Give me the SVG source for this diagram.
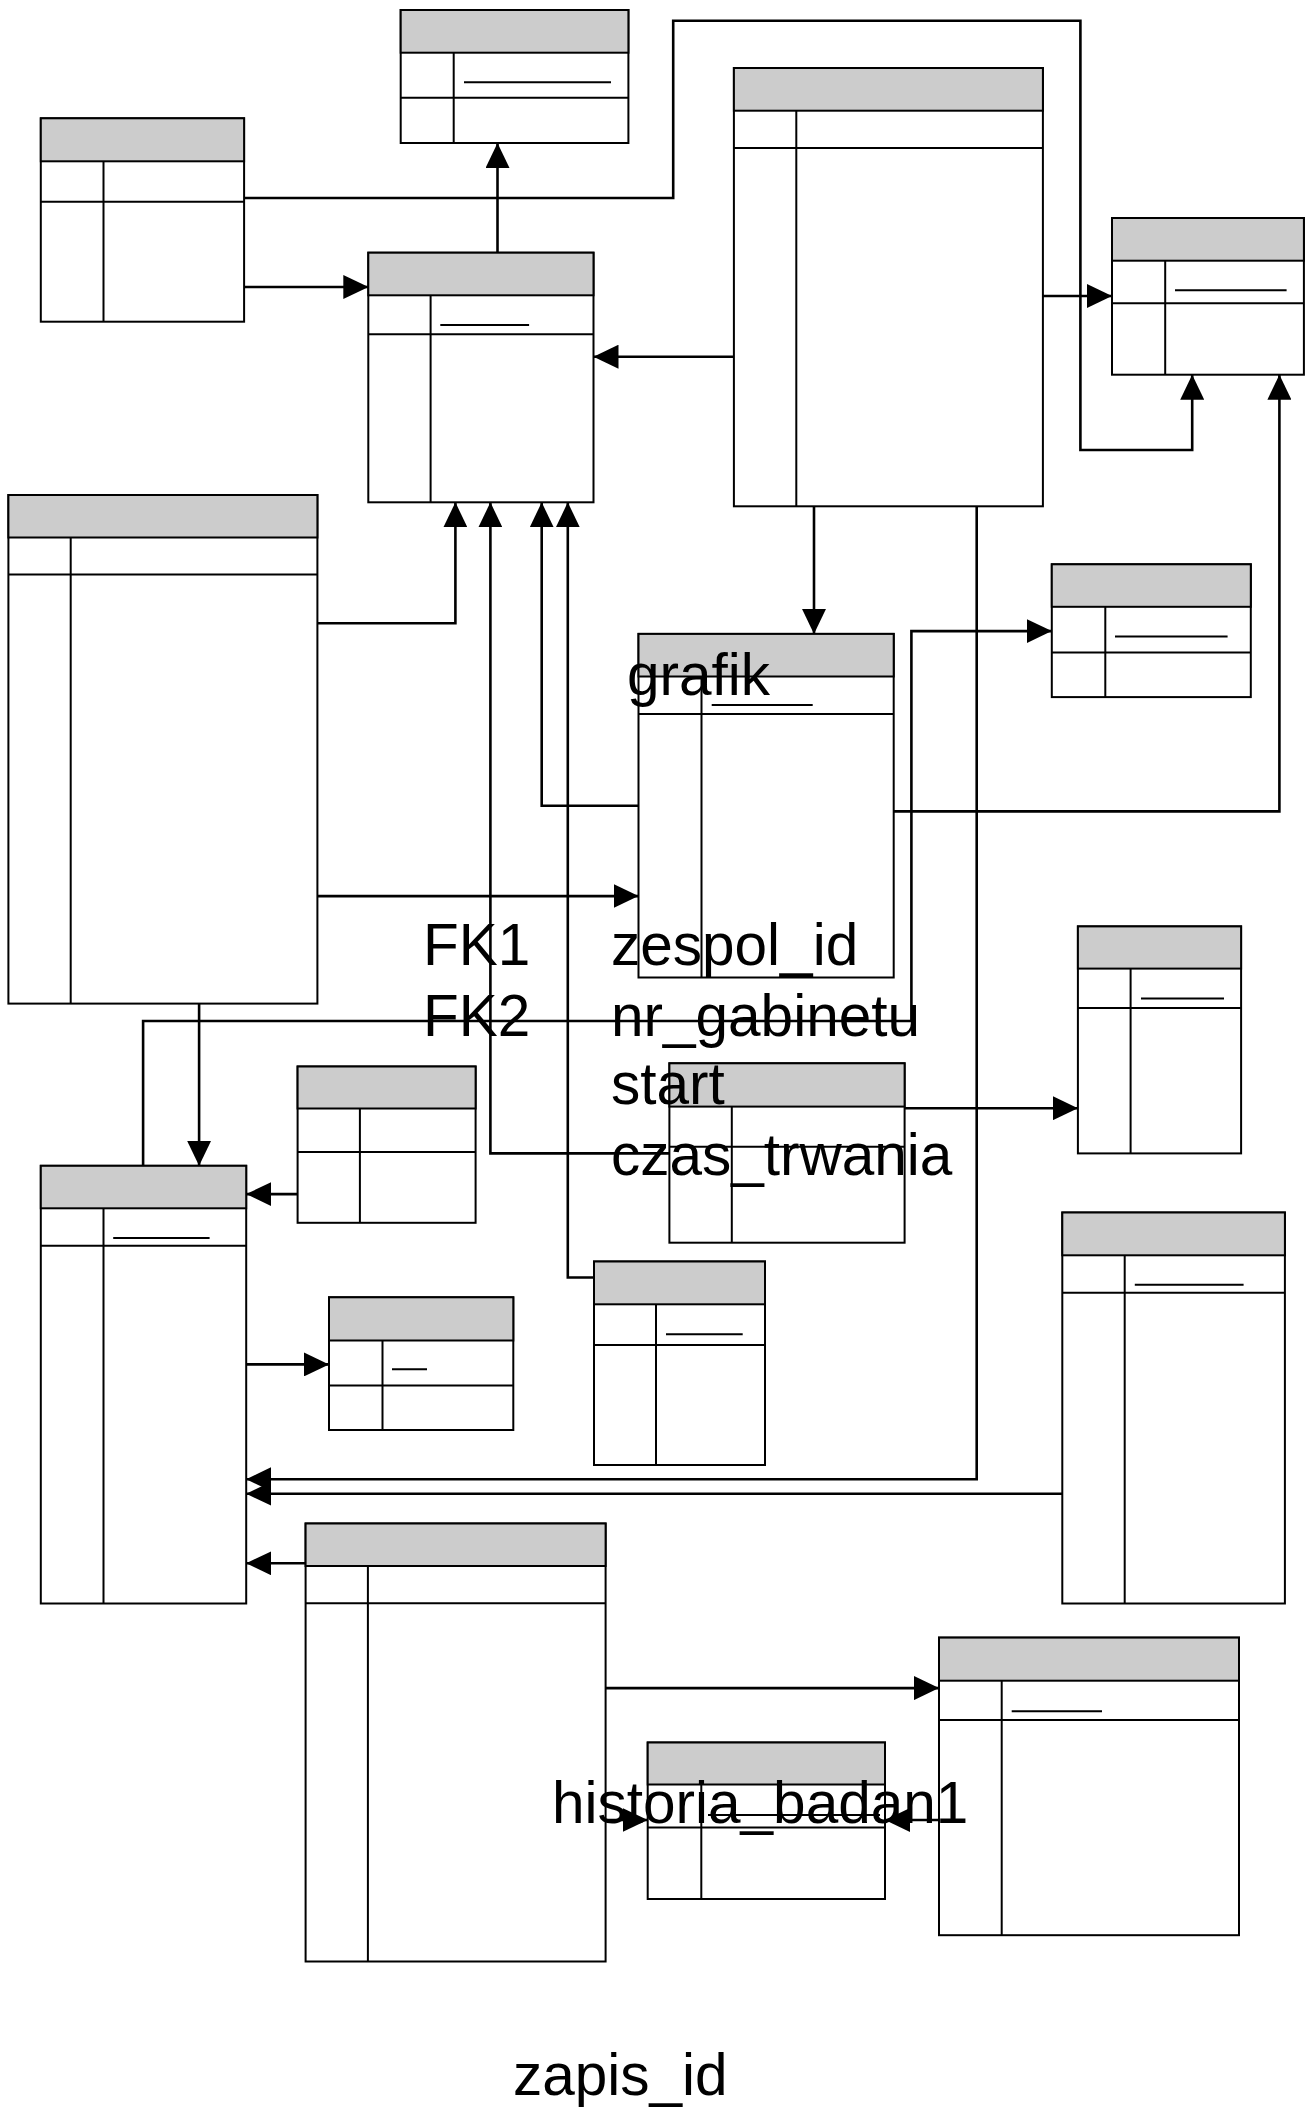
<svg xmlns="http://www.w3.org/2000/svg" width="1311" height="2108" viewBox="0 0 1311 2108">
<style>
.box{fill:#fff;stroke:#000;stroke-width:2}
.hdr{fill:#ccc;stroke:#000;stroke-width:2}
.ln{stroke:#000;stroke-width:2;fill:none}
.pk{stroke:#000;stroke-width:2;fill:none}
.cn{stroke:#000;stroke-width:2.6;fill:none;marker-end:url(#ah)}
.lbl{font-family:"Liberation Sans",Arial,sans-serif;font-size:58.5px;fill:#000}
</style>
<defs>
<marker id="ah" markerUnits="userSpaceOnUse" markerWidth="25" markerHeight="24" refX="25" refY="12" orient="auto" viewBox="0 0 25 24"><path d="M0,0 L25,12 L0,24 Z" fill="#000"/></marker>
</defs>
<rect width="1311" height="2108" fill="#fff"/>

<g id="tableA">
<rect class="box" x="400.7" y="10" width="227.7" height="133"/>
<rect class="hdr" x="400.7" y="10" width="227.7" height="42.7"/>
<line class="ln" x1="400.7" y1="97.7" x2="628.4" y2="97.7"/>
<line class="ln" x1="453.7" y1="52.7" x2="453.7" y2="143"/>
<line class="pk" x1="464" y1="82.3" x2="611" y2="82.3"/>
</g>
<g id="tableB">
<rect class="box" x="40.8" y="118.3" width="203.3" height="203.4"/>
<rect class="hdr" x="40.8" y="118.3" width="203.3" height="43"/>
<line class="ln" x1="40.8" y1="201.7" x2="244.1" y2="201.7"/>
<line class="ln" x1="103.5" y1="161.3" x2="103.5" y2="321.7"/>
</g>
<g id="tableC">
<rect class="box" x="368.3" y="252.7" width="225.2" height="249.6"/>
<rect class="hdr" x="368.3" y="252.7" width="225.2" height="42.6"/>
<line class="ln" x1="368.3" y1="334.3" x2="593.5" y2="334.3"/>
<line class="ln" x1="430.6" y1="295.3" x2="430.6" y2="502.3"/>
<line class="pk" x1="440.3" y1="325" x2="529.1" y2="325"/>
</g>
<g id="tableD">
<rect class="box" x="733.9" y="68" width="309" height="438.3"/>
<rect class="hdr" x="733.9" y="68" width="309" height="42.7"/>
<line class="ln" x1="733.9" y1="148" x2="1042.9" y2="148"/>
<line class="ln" x1="796.3" y1="110.7" x2="796.3" y2="506.3"/>
</g>
<g id="tableE">
<rect class="box" x="1112" y="218" width="191.9" height="156.7"/>
<rect class="hdr" x="1112" y="218" width="191.9" height="42.7"/>
<line class="ln" x1="1112" y1="303.3" x2="1303.9" y2="303.3"/>
<line class="ln" x1="1165.2" y1="260.7" x2="1165.2" y2="374.7"/>
<line class="pk" x1="1175" y1="290.3" x2="1286.6" y2="290.3"/>
</g>
<g id="tableF">
<rect class="box" x="8.4" y="495" width="309" height="508.6"/>
<rect class="hdr" x="8.4" y="495" width="309" height="42.5"/>
<line class="ln" x1="8.4" y1="574.6" x2="317.4" y2="574.6"/>
<line class="ln" x1="70.7" y1="537.5" x2="70.7" y2="1003.6"/>
</g>
<g id="tableH">
<rect class="box" x="1051.8" y="564.3" width="199" height="132.8"/>
<rect class="hdr" x="1051.8" y="564.3" width="199" height="42.5"/>
<line class="ln" x1="1051.8" y1="652.5" x2="1250.8" y2="652.5"/>
<line class="ln" x1="1105.3" y1="606.8" x2="1105.3" y2="697.1"/>
<line class="pk" x1="1115" y1="636.4" x2="1227.6" y2="636.4"/>
</g>
<g id="tableK">
<rect class="box" x="1077.9" y="926.4" width="163.2" height="227"/>
<rect class="hdr" x="1077.9" y="926.4" width="163.2" height="42.2"/>
<line class="ln" x1="1077.9" y1="1007.9" x2="1241.1" y2="1007.9"/>
<line class="ln" x1="1130.6" y1="968.6" x2="1130.6" y2="1153.4"/>
<line class="pk" x1="1141" y1="998.6" x2="1224" y2="998.6"/>
</g>
<g id="tableL">
<rect class="box" x="297.6" y="1066.5" width="178" height="156.3"/>
<rect class="hdr" x="297.6" y="1066.5" width="178" height="42"/>
<line class="ln" x1="297.6" y1="1152" x2="475.6" y2="1152"/>
<line class="ln" x1="359.9" y1="1108.5" x2="359.9" y2="1222.8"/>
</g>
<g id="tableI">
<rect class="box" x="669.4" y="1063.3" width="235.2" height="179.4"/>
<rect class="hdr" x="669.4" y="1063.3" width="235.2" height="43.3"/>
<line class="ln" x1="669.4" y1="1146.7" x2="904.6" y2="1146.7"/>
<line class="ln" x1="731.8" y1="1106.6" x2="731.8" y2="1242.7"/>
</g>
<g id="tableJ">
<rect class="box" x="594" y="1261.5" width="171" height="203.5"/>
<rect class="hdr" x="594" y="1261.5" width="171" height="42.8"/>
<line class="ln" x1="594" y1="1344.9" x2="765" y2="1344.9"/>
<line class="ln" x1="656" y1="1304.3" x2="656" y2="1465"/>
<line class="pk" x1="666" y1="1334.2" x2="742.7" y2="1334.2"/>
</g>
<g id="tableG">
<rect class="box" x="40.8" y="1165.8" width="205.4" height="437.7"/>
<rect class="hdr" x="40.8" y="1165.8" width="205.4" height="42.5"/>
<line class="ln" x1="40.8" y1="1245.8" x2="246.2" y2="1245.8"/>
<line class="ln" x1="103.5" y1="1208.3" x2="103.5" y2="1603.5"/>
<line class="pk" x1="113.2" y1="1238.1" x2="209.6" y2="1238.1"/>
</g>
<g id="tableM">
<rect class="box" x="329" y="1297.3" width="184.3" height="132.7"/>
<rect class="hdr" x="329" y="1297.3" width="184.3" height="43.2"/>
<line class="ln" x1="329" y1="1385.5" x2="513.3" y2="1385.5"/>
<line class="ln" x1="382.5" y1="1340.5" x2="382.5" y2="1430"/>
<line class="pk" x1="392" y1="1369.3" x2="427" y2="1369.3"/>
</g>
<g id="tableO">
<rect class="box" x="1062.3" y="1212.5" width="222.6" height="391"/>
<rect class="hdr" x="1062.3" y="1212.5" width="222.6" height="42.8"/>
<line class="ln" x1="1062.3" y1="1292.8" x2="1284.9" y2="1292.8"/>
<line class="ln" x1="1124.7" y1="1255.3" x2="1124.7" y2="1603.5"/>
<line class="pk" x1="1134.8" y1="1284.8" x2="1243.6" y2="1284.8"/>
</g>
<g id="tableN">
<rect class="box" x="305.6" y="1523.5" width="300" height="438"/>
<rect class="hdr" x="305.6" y="1523.5" width="300" height="42.5"/>
<line class="ln" x1="305.6" y1="1603.2" x2="605.6" y2="1603.2"/>
<line class="ln" x1="367.9" y1="1566" x2="367.9" y2="1961.5"/>
</g>
<g id="tableP">
<rect class="box" x="939" y="1637.6" width="300" height="297.6"/>
<rect class="hdr" x="939" y="1637.6" width="300" height="43.1"/>
<line class="ln" x1="939" y1="1719.9" x2="1239" y2="1719.9"/>
<line class="ln" x1="1001.7" y1="1680.7" x2="1001.7" y2="1935.2"/>
<line class="pk" x1="1011.7" y1="1711.3" x2="1102" y2="1711.3"/>
</g>
<g id="grafik">
<rect class="box" x="638.5" y="633.9" width="255.2" height="343.6"/>
<rect class="hdr" x="638.5" y="633.9" width="255.2" height="42.6"/>
<line class="ln" x1="638.5" y1="714" x2="893.7" y2="714"/>
<line class="ln" x1="701.5" y1="676.5" x2="701.5" y2="977.5"/>
<line class="pk" x1="711.7" y1="705" x2="812.7" y2="705"/>
<text class="lbl" x="627" y="695">grafik</text>
<text class="lbl" x="423" y="965">FK1</text>
<text class="lbl" x="423" y="1036">FK2</text>
<text class="lbl" x="611" y="965">zespol_id</text>
<text class="lbl" x="611" y="1036">nr_gabinetu</text>
<text class="lbl" x="611" y="1104">start</text>
<text class="lbl" x="611" y="1175">czas_trwania</text>
</g>
<g id="historia_badan1">
<rect class="box" x="647.7" y="1742.5" width="237.3" height="156.5"/>
<rect class="hdr" x="647.7" y="1742.5" width="237.3" height="42"/>
<line class="ln" x1="647.7" y1="1827.5" x2="885" y2="1827.5"/>
<line class="ln" x1="701.3" y1="1784.5" x2="701.3" y2="1899"/>
<line class="pk" x1="708" y1="1815" x2="880" y2="1815"/>
<text class="lbl" x="552" y="1823">historia_badan1</text>
<text class="lbl" x="513" y="2095">zapis_id</text>
</g>

<g id="connectors">
<path class="cn" d="M244.1,287 H368.3"/>
<path class="cn" d="M497.5,252.7 V143"/>
<path class="cn" d="M244.1,198 H673.2 V20.7 H1080.4 V450 H1192.2 V374.7"/>
<path class="cn" d="M733.9,356.7 H593.5"/>
<path class="cn" d="M1042.9,296 H1112"/>
<path class="cn" d="M814,506.3 V633.9"/>
<path class="cn" d="M317.4,623.2 H455.4 V502.3"/>
<path class="cn" d="M638.5,805.7 H541.7 V502.3"/>
<path class="cn" d="M594,1277.5 H567.8 V502.3"/>
<path class="cn" d="M669.4,1153.4 H490.4 V502.3"/>
<path class="cn" d="M317.4,896.1 H638.5"/>
<path class="cn" d="M893.7,811.4 H1279.4 V374.7"/>
<path class="cn" d="M143.1,1165.8 V1021 H911.4 V631.1 H1051.8"/>
<path class="cn" d="M199.1,1003.6 V1165.8"/>
<path class="cn" d="M297.6,1194.1 H246.2"/>
<path class="cn" d="M246.2,1364.4 H329"/>
<path class="cn" d="M904.6,1108.2 H1077.9"/>
<path class="cn" d="M976.7,506.3 V1479.2 H246.2"/>
<path class="cn" d="M1062.3,1493.7 H246.2"/>
<path class="cn" d="M305.6,1563.3 H246.2"/>
<path class="cn" d="M605.6,1688.1 H939"/>
<path class="cn" d="M605.6,1820 H647.7"/>
<path class="cn" d="M939,1820 H885"/>
</g>
</svg>
